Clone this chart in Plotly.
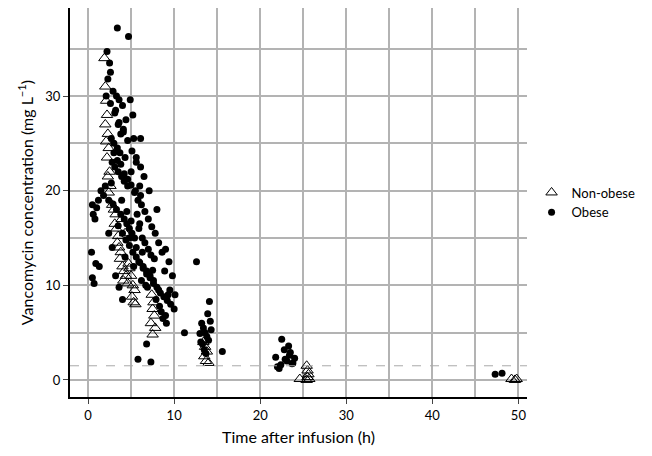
import plotly.graph_objects as go

# non-obese (triangles)
non_x = [1.9, 2.0, 2.1, 2.2, 2.0, 2.3, 2.1, 2.4, 2.2, 2.5, 2.3, 2.6, 2.4, 2.8, 3.0, 3.2, 3.1, 3.3, 3.5, 3.4, 3.6, 3.8, 3.7,
         4.0, 4.2, 4.4, 4.1, 4.6, 4.8, 5.0, 4.7, 5.2, 5.4, 5.1, 5.3, 5.5, 3.9, 4.3,
         7.4, 7.6, 7.5, 7.7, 7.3, 7.8, 7.5,
         13.4, 13.6, 13.8, 13.5, 13.7, 14.0,
         24.6, 25.4, 25.5, 25.6, 25.5, 25.7, 25.4,
         49.2, 49.6, 49.8]
non_y = [34.0, 31.0, 29.5, 28.0, 27.0, 26.0, 25.2, 24.5, 23.5, 22.0, 21.5, 20.5, 19.8, 18.5, 18.0, 17.5, 16.5, 16.0, 15.2, 14.5, 14.0, 13.5, 12.8,
         12.0, 11.5, 11.0, 10.5, 10.2, 11.8, 11.0, 12.3, 10.0, 9.5, 8.8, 8.2, 8.0, 17.0, 15.5,
         9.0, 8.2, 7.5, 6.8, 6.0, 5.5, 4.8,
         4.0, 3.5, 3.0, 2.5, 2.0, 1.8,
         0.1, 1.5, 1.0, 0.6, 0.3, 0.1, 0.0,
         0.1, 0.0, 0.1]

# obese (filled circles)
ob_x = [3.4, 4.7, 2.2, 2.5, 2.6, 2.3, 2.9, 3.3, 3.6, 4.0, 3.2, 4.4, 3.5, 4.1, 3.8, 2.7, 3.0, 3.4, 3.7, 4.3, 4.9, 5.2,
        2.8, 3.1, 3.5, 3.9, 4.2, 4.6, 5.0, 5.5, 6.1, 6.5, 2.0, 1.5, 1.2, 0.5, 0.6, 0.8, 1.0, 0.4, 0.9, 0.5, 0.7, 1.3,
        1.8, 2.4, 2.9, 3.3, 3.8, 4.2, 4.5, 4.8, 5.1, 5.4, 5.7, 6.0, 6.3, 6.6, 7.0, 7.3, 5.9, 6.4, 6.8, 7.2, 7.6,
        4.0, 4.4, 4.8, 5.2, 5.6, 6.0, 6.4, 6.8, 7.2, 7.6, 8.0, 8.4, 8.8, 9.2, 9.6, 10.0, 9.0, 8.5, 7.9, 8.2,
        3.0, 3.4, 3.8, 4.2, 4.6, 5.0, 5.4, 5.8, 6.2, 6.6, 7.0, 7.4, 7.8, 8.2, 8.6, 9.0, 9.4, 9.8,
        5.3, 6.1, 5.6, 6.0, 7.1, 8.0, 8.9, 9.5, 10.1, 11.2, 12.6, 8.7, 9.1, 6.8, 5.8, 7.3,
        2.1, 2.6, 3.1, 3.6, 4.1, 4.6, 5.1, 5.6, 6.1, 2.4, 2.8, 3.2, 3.6, 4.0,
        13.2, 13.4, 13.6, 13.8, 14.0, 13.3, 13.5, 13.7, 13.9, 14.1, 13.0, 14.2, 15.6, 14.3, 13.1,
        21.8, 22.2, 22.5, 22.8, 23.1, 23.4, 23.7, 24.0, 22.4, 22.9, 23.3, 23.8, 22.0, 23.5,
        47.3, 48.1,
        3.9, 4.5, 5.0, 5.6, 6.3, 6.9, 4.3, 5.3, 6.2, 7.7, 8.3, 9.3, 2.7, 3.5, 4.8, 5.9, 6.7, 7.5]
ob_y = [37.2, 36.3, 34.7, 33.5, 32.5, 31.8, 30.5, 30.0, 29.6, 29.0, 28.5, 27.5, 27.0, 26.5, 26.0, 25.5, 25.0, 24.5, 24.0, 23.5, 29.6, 28.0,
        23.0, 22.5, 22.0, 21.5, 21.0, 20.5, 22.0, 20.0, 19.5, 21.5, 20.5, 20.0, 19.0, 18.5, 17.5, 17.0, 18.2, 13.5, 12.3, 10.8, 10.2, 12.0,
        19.5, 19.0, 18.6, 18.0, 17.5, 17.0, 16.5, 16.0, 15.5, 15.0, 17.5, 16.5, 15.0, 14.5, 13.8, 13.2, 12.5, 12.0, 11.5, 11.0, 10.5,
        15.5, 14.8, 14.2, 13.5, 13.0, 12.4, 11.8, 11.2, 10.8, 10.2, 9.8, 9.2, 8.8, 8.4, 8.0, 7.5, 6.8, 7.2, 8.5, 9.5,
        24.0, 23.2, 22.8, 21.8, 21.2, 20.6, 19.8, 19.0, 18.5, 17.8, 17.0, 16.2, 15.5, 14.5, 13.5, 13.8, 12.5, 11.0,
        25.5, 25.5, 23.0, 20.5, 20.0, 18.0, 11.5, 9.5, 9.0, 5.0, 12.5, 6.5, 6.0, 3.8, 2.2, 1.9,
        30.0, 29.2, 28.2, 27.2, 26.2, 25.3, 24.2, 23.5, 22.5, 15.5, 14.0, 11.0, 9.8, 8.5,
        6.0, 5.5, 5.0, 4.6, 4.2, 3.8, 3.2, 2.8, 7.0, 8.3, 4.9, 6.2, 3.0, 5.3, 4.0,
        2.4, 1.2, 4.3, 3.2, 2.0, 2.6, 1.7, 2.3, 1.6, 2.2, 3.6, 1.8, 1.4, 2.9,
        0.6, 0.7,
        19.0, 17.8, 16.8, 14.0, 13.5, 9.8, 13.0, 12.0, 10.5, 12.8, 7.8, 9.0, 20.8, 16.3, 15.0, 16.0, 10.0, 11.6]

grid = "#b3b3b3"
fig = go.Figure()
fig.add_trace(go.Scatter(x=non_x, y=non_y, mode="markers", name="Non-obese",
                         marker=dict(symbol="triangle-up-open", size=10, color="black", line=dict(width=1))))
fig.add_trace(go.Scatter(x=ob_x, y=ob_y, mode="markers", name="Obese",
                         marker=dict(symbol="circle", size=7, color="black")))
fig.add_hline(y=1.5, line=dict(color="#aaaaaa", dash="dash", width=1))

fig.update_layout(
    width=652, height=456, plot_bgcolor="white", paper_bgcolor="white",
    font=dict(family="Lato", size=13, color="black"),
    margin=dict(l=62, r=133, t=0, b=67, autoexpand=False),
    legend=dict(x=1.01, xanchor="left", y=0.5, yanchor="middle", bgcolor="rgba(0,0,0,0)",
                itemwidth=30, font=dict(size=13)),
    xaxis=dict(title=dict(text="Time after infusion (h)", standoff=10), range=[-2.1, 51.0],
               tickvals=[0, 10, 20, 30, 40, 50], ticks="outside", ticklen=5, automargin=False,
               showline=True, linecolor="black", linewidth=2, zeroline=False,
               showgrid=True, gridcolor=grid, gridwidth=2,
               minor=dict(dtick=5, showgrid=True, gridcolor=grid, gridwidth=2)),
    yaxis=dict(title=dict(text="Vancomycin concentration (mg L<sup>−1</sup>)", standoff=8), range=[-1.8, 39.3],
               tickvals=[0, 10, 20, 30], ticks="outside", ticklen=5, automargin=False,
               showline=True, linecolor="black", linewidth=2, zeroline=False,
               showgrid=True, gridcolor=grid, gridwidth=2,
               minor=dict(dtick=5, showgrid=True, gridcolor=grid, gridwidth=2)),
)
fig.write_html("out.html")
